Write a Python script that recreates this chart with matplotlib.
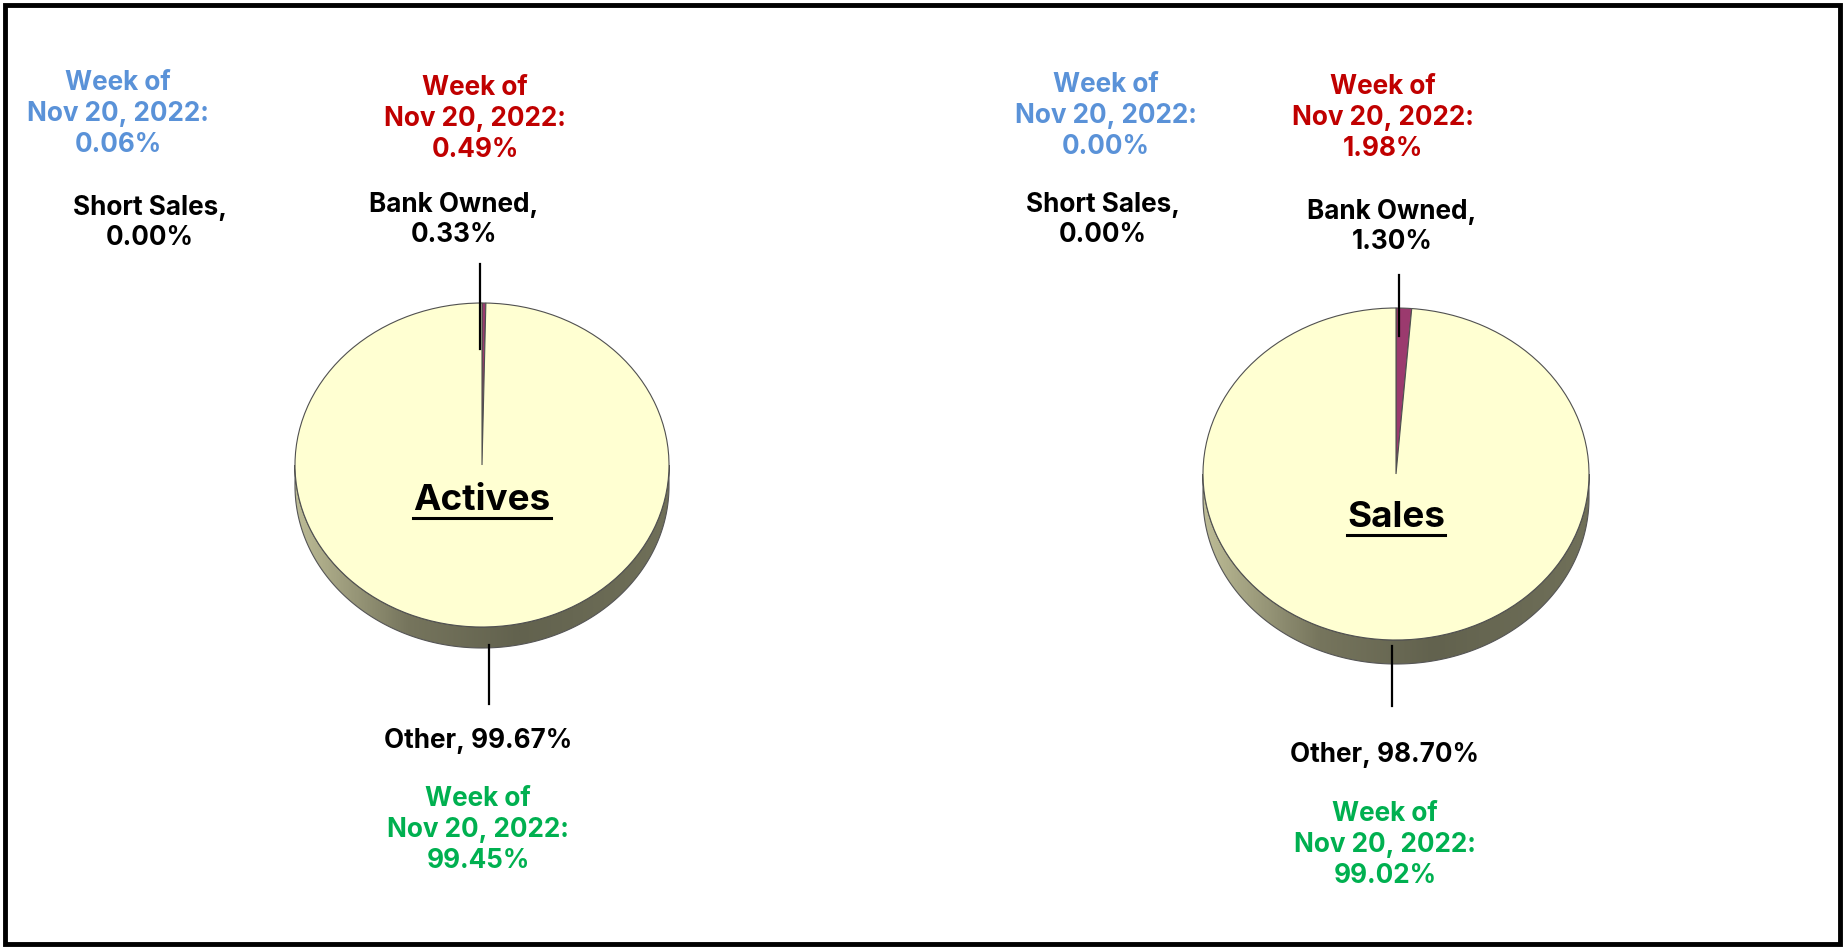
"""Distressed share of actives and sales, two 3D-style pies."""

import numpy as np
import matplotlib.pyplot as plt
from matplotlib.patches import Polygon, Rectangle
from matplotlib.colors import LinearSegmentedColormap

plt.rcParams['font.family'] = ['Inter', 'DejaVu Sans']

# ---- data -------------------------------------------------------------
categories = ["Short Sales", "Bank Owned", "Other"]
chart_titles = ["Actives", "Sales"]
actives_share = [0.00, 0.33, 99.67]
sales_share = [0.00, 1.30, 98.70]
actives_prev_week = [0.06, 0.49, 99.45]
sales_prev_week = [0.00, 1.98, 99.02]
prev_week_label = "Nov 20, 2022"

# ---- style ------------------------------------------------------------
W, H = 1845, 948
slice_colors = ["#4F81BD", "#9B3A6E", "#FFFFD2"]
prev_colors = ["#5A92D8", "#C00000", "#00B050"]
side_cmap = LinearSegmentedColormap.from_list(
    "side", [(0.0, "#BDBC96"), (0.3, "#76755D"), (0.6, "#62624E"), (1.0, "#707059")])
LABEL_SIZE = 18.8
TITLE_SIZE = 26.5
LINE_SP = 1.24

# pixel layout per pie: center, semi-axes, depth
layout = [
    dict(cx=482, cy=465, a=187, b=162, depth=21, title_dy=35,
         cat_pos=[(150, 223), (454, 220), (478, 741)],
         prev_pos=[(118, 114), (475, 119), (478, 830)],
         leaders=[None, (480, 264, 349), (489, 645, 704)]),
    dict(cx=1396, cy=474, a=193, b=166, depth=24, title_dy=44,
         cat_pos=[(1103, 220), (1392, 227), (1384, 755)],
         prev_pos=[(1106, 116), (1383, 118), (1385, 845)],
         leaders=[None, (1399, 275, 336), (1392, 646, 706)]),
]

fig = plt.figure(figsize=(W / 100, H / 100), dpi=100)
fig.patch.set_facecolor("white")

title_texts = []
for title, shares, lay in zip(chart_titles, [actives_share, sales_share], layout):
    cx, cy, a, b = lay["cx"], lay["cy"], lay["a"], lay["b"]
    ax = fig.add_axes([(cx - 1.3 * a) / W, 1 - (cy + 1.3 * b) / H,
                       2.6 * a / W, 2.6 * b / H])
    d = lay["depth"] / b

    # cylinder side (lower half only), shaded left to right
    t = np.linspace(np.pi, 2 * np.pi, 300)
    top = np.column_stack([np.cos(t), np.sin(t)])
    bot = np.column_stack([np.cos(t), np.sin(t) - d])[::-1]
    side = Polygon(np.vstack([top, bot]), closed=True, facecolor="none",
                   edgecolor="#555555", linewidth=0.8, zorder=2)
    ax.add_patch(side)
    grad = np.linspace(0, 1, 400)[None, :]
    im = ax.imshow(grad, extent=[-1, 1, -1 - d, 0], cmap=side_cmap,
                   aspect="auto", zorder=1, interpolation="bilinear")
    im.set_clip_path(side)

    wedges, _ = ax.pie(shares, colors=slice_colors, startangle=90,
                       counterclock=False, radius=1,
                       wedgeprops=dict(edgecolor="#505050", linewidth=0.8))
    for w in wedges:
        w.set_zorder(3)
    wedges[0].set_linewidth(0)

    ax.set_aspect("auto")
    ax.set_xlim(-1.3, 1.3)
    ax.set_ylim(-1.3, 1.3)
    ax.axis("off")

    title_texts.append(ax.text(0, -lay["title_dy"] / b, title, ha="center",
                               va="center", fontsize=TITLE_SIZE, fontweight="bold",
                               color="black", zorder=5))

# overlay in pixel coordinates for labels, leaders and frame
ov = fig.add_axes([0, 0, 1, 1], facecolor="none")
ov.set_xlim(0, W)
ov.set_ylim(H, 0)
ov.axis("off")
ov.set_zorder(10)

for shares, prev, lay in zip([actives_share, sales_share],
                             [actives_prev_week, sales_prev_week], layout):
    for i, cat in enumerate(categories):
        x, y = lay["cat_pos"][i]
        sep = " " if cat == "Other" else "\n"
        ov.text(x, y, f"{cat},{sep}{shares[i]:.2f}%", ha="center", va="center",
                fontsize=LABEL_SIZE, fontweight="bold", color="black",
                linespacing=LINE_SP)
        x, y = lay["prev_pos"][i]
        ov.text(x, y, f"Week of\n{prev_week_label}:\n{prev[i]:.2f}%",
                ha="center", va="center", fontsize=LABEL_SIZE, fontweight="bold",
                color=prev_colors[i], linespacing=LINE_SP)
        if lay["leaders"][i] is not None:
            lx, y0, y1 = lay["leaders"][i]
            ov.plot([lx, lx], [y0, y1], color="black", linewidth=1.6)

ov.add_patch(Rectangle((5, 5), W - 10, H - 9, fill=False, edgecolor="black",
                       linewidth=3.5))

# underline the pie titles
fig.canvas.draw()
renderer = fig.canvas.get_renderer()
for txt in title_texts:
    bb = txt.get_window_extent(renderer)
    yline = H - bb.y0 + 1
    ov.plot([bb.x0, bb.x1], [yline, yline], color="black", linewidth=2.2)

fig.savefig("out.png", dpi=100)
plt.close(fig)
